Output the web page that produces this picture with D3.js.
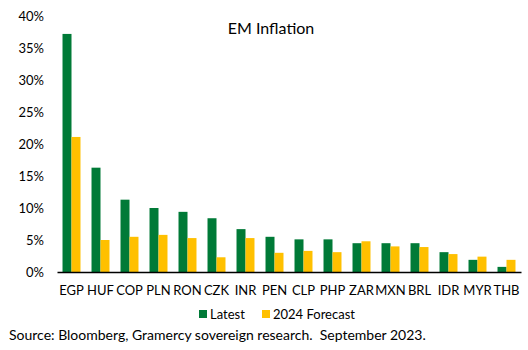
<!DOCTYPE html>
<html>
<head>
<meta charset="utf-8">
<script src="https://cdn.jsdelivr.net/npm/d3@7"></script>
<style>
body { margin: 0; background: #fff; }
text { font-family: Lato, "Open Sans", sans-serif; fill: #000; }
</style>
</head>
<body>
<div id="chart"></div>
<script>
var categories = ['EGP', 'HUF', 'COP', 'PLN', 'RON', 'CZK', 'INR', 'PEN', 'CLP', 'PHP', 'ZAR', 'MXN', 'BRL', 'IDR', 'MYR', 'THB'];
var latest = [37.2, 16.3, 11.3, 10.0, 9.4, 8.4, 6.7, 5.5, 5.1, 5.1, 4.5, 4.5, 4.5, 3.1, 1.9, 0.8];
var forecast = [21.1, 5.0, 5.5, 5.8, 5.3, 2.3, 5.3, 3.0, 3.3, 3.1, 4.8, 4.0, 3.9, 2.8, 2.4, 1.9];
var seriesNames = ['Latest', '2024 Forecast'];
var yTicks = [0, 5, 10, 15, 20, 25, 30, 35, 40];

var w = 528; var h = 350;
var colors = ['#007A37', '#FFC000'];

var svg = d3.select('#chart')
			.append('svg')
			.attr('width', w)
			.attr('height', h);

var x = d3.scaleBand()
			.domain(categories)
			.range([57, 521])
			.paddingInner(0.38)
			.paddingOuter(0.19);

var xs = d3.scaleBand()
			.domain([0, 1])
			.range([0, x.bandwidth()]);

var y = d3.scaleLinear()
			.domain([0, 40])
			.range([272, 16]);

// y labels, no axis line
var yAxis = d3.axisLeft(y)
			.tickValues(yTicks)
			.tickSize(0)
			.tickPadding(0)
			.tickFormat(function(d) { return d + '%'; });

var gy = svg.append('g')
			.attr('transform', 'translate(44,0)')
			.call(yAxis);
gy.select('.domain').remove();
gy.selectAll('text').style('font-size', '13px').attr('fill', '#000');

var series = [latest, forecast];
series.forEach(function(vals, s) {
	svg.append('g').selectAll('rect')
		.data(vals)
		.enter()
		.append('rect')
		.attr('x', function(d, i) { return x(categories[i]) + xs(s); })
		.attr('width', xs.bandwidth())
		.attr('y', function(d) { return y(d); })
		.attr('height', function(d) { return y(0) - y(d); })
		.attr('fill', colors[s]);
});

var xAxis = d3.axisBottom(x)
			.tickSize(0)
			.tickPadding(14);
var gx = svg.append('g')
			.attr('transform', 'translate(0,' + y(0) + ')')
			.call(xAxis);
gx.select('.domain').attr('stroke', '#000').attr('stroke-width', 1.5);
gx.selectAll('text').style('font-size', '13px').attr('fill', '#000');

svg.append('text')
	.attr('x', 271)
	.attr('y', 34)
	.attr('text-anchor', 'middle')
	.style('font-size', '16px')
	.text('EM Inflation');

// legend
var legendX = [199, 262];
seriesNames.forEach(function(name, s) {
	svg.append('rect')
		.attr('x', legendX[s])
		.attr('y', 310)
		.attr('width', 8)
		.attr('height', 8)
		.attr('fill', colors[s]);
	svg.append('text')
		.attr('x', legendX[s] + 11)
		.attr('y', 319)
		.style('font-size', '13px')
		.text(name);
});

svg.append('text')
	.attr('x', 9)
	.attr('y', 340)
	.style('font-size', '14px')
	.text('Source: Bloomberg, Gramercy sovereign research.  September 2023.')
	.attr('xml:space', 'preserve');
</script>
</body>
</html>
